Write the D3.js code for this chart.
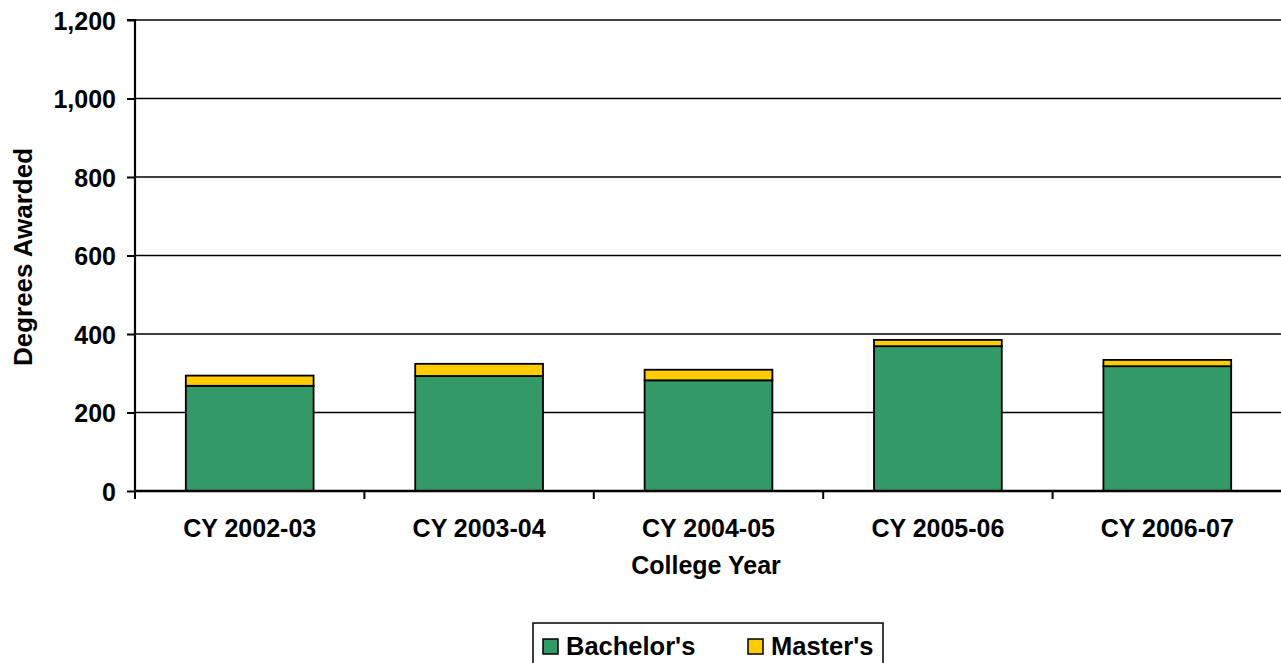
<!DOCTYPE html>
<html><head><meta charset="utf-8">
<script src="https://cdn.jsdelivr.net/npm/d3@7"></script>
<style>html,body{margin:0;padding:0;background:#fff;overflow:hidden}text{font-family:"Liberation Sans",Arial,sans-serif;font-weight:bold;fill:#000}</style>
</head><body><svg id="c" width="1281" height="663"></svg>
<script>
const categories = ["CY 2002-03","CY 2003-04","CY 2004-05","CY 2005-06","CY 2006-07"];
const bachelors = [268, 293, 282, 369, 318];
const masters = [26, 31, 27, 16, 16];
const yTicks = [0, 200, 400, 600, 800, 1000, 1200];
const seriesNames = ["Bachelor's", "Master's"];
const seriesColors = ["#339966", "#FFCC00"];

const svg = d3.select("#c");
const L = 135, R = 1282, T = 20, B = 491;
const x = d3.scaleBand().domain(categories).range([L, R]).paddingInner(0.443).paddingOuter(0.2215);
const y = d3.scaleLinear().domain([0, 1200]).range([B, T]);
const fmt = d3.format(",");

// gridlines
svg.append("g").selectAll("line").data(yTicks.filter(d => d > 0)).join("line")
  .attr("x1", L).attr("x2", 1281).attr("y1", d => y(d)).attr("y2", d => y(d))
  .attr("stroke", "#000").attr("stroke-width", 1.5);

// stacked bars
const rows = categories.map((c, i) => ({cat: c, b: bachelors[i], m: masters[i]}));
const stack = d3.stack().keys(["b", "m"])(rows);
svg.append("g").selectAll("g").data(stack).join("g")
  .attr("fill", (d, i) => seriesColors[i])
  .selectAll("rect").data(d => d).join("rect")
  .attr("x", d => x(d.data.cat)).attr("width", x.bandwidth())
  .attr("y", d => y(d[1])).attr("height", d => y(d[0]) - y(d[1]))
  .attr("stroke", "#000").attr("stroke-width", 1.8);

// y axis
const yAxis = d3.axisLeft(y).tickValues(yTicks).tickFormat(fmt).tickSize(8).tickPadding(11);
const gy = svg.append("g").attr("transform", `translate(${L},0)`).call(yAxis);
gy.select(".domain").attr("stroke", "#000").attr("stroke-width", 2.2).attr("d", `M-8,${T}H0V${B}`);
gy.selectAll(".tick line").attr("stroke-width", 2);
gy.selectAll("text").style("font-size", "25px").attr("dy", "0.36em");

// x axis
const xAxis = d3.axisBottom(x).tickSize(0).tickPadding(36);
const gx = svg.append("g").attr("transform", `translate(0,${B})`).call(xAxis);
gx.select(".domain").attr("stroke", "#000").attr("stroke-width", 2.5).attr("d", `M${L},0H1281`);
gx.selectAll("text").style("font-size", "25px").attr("dy", "0.4em");
// category boundary ticks
const bounds = categories.map(c => x(c) - x.step() * x.paddingOuter());
gx.append("g").selectAll("line").data(bounds).join("line")
  .attr("x1", d => d).attr("x2", d => d).attr("y1", 0).attr("y2", 8)
  .attr("stroke", "#000").attr("stroke-width", 2);

// axis titles
svg.append("text").attr("x", (L + 1281) / 2 - 2).attr("y", 574).attr("text-anchor", "middle")
  .style("font-size", "25px").text("College Year");
svg.append("text").attr("transform", "translate(32,257) rotate(-90)").attr("text-anchor", "middle")
  .style("font-size", "26px").text("Degrees Awarded");

// legend
const lg = svg.append("g");
lg.append("rect").attr("x", 533).attr("y", 623).attr("width", 350).attr("height", 60)
  .attr("fill", "#fff").attr("stroke", "#000").attr("stroke-width", 1.5);
const legendX = [543, 748];
seriesNames.forEach((n, i) => {
  lg.append("rect").attr("x", legendX[i]).attr("y", 639).attr("width", 15).attr("height", 15)
    .attr("fill", seriesColors[i]).attr("stroke", "#000").attr("stroke-width", 1.5);
  lg.append("text").attr("x", legendX[i] + 23).attr("y", 655).style("font-size", "25.5px").text(n);
});
</script></body></html>
